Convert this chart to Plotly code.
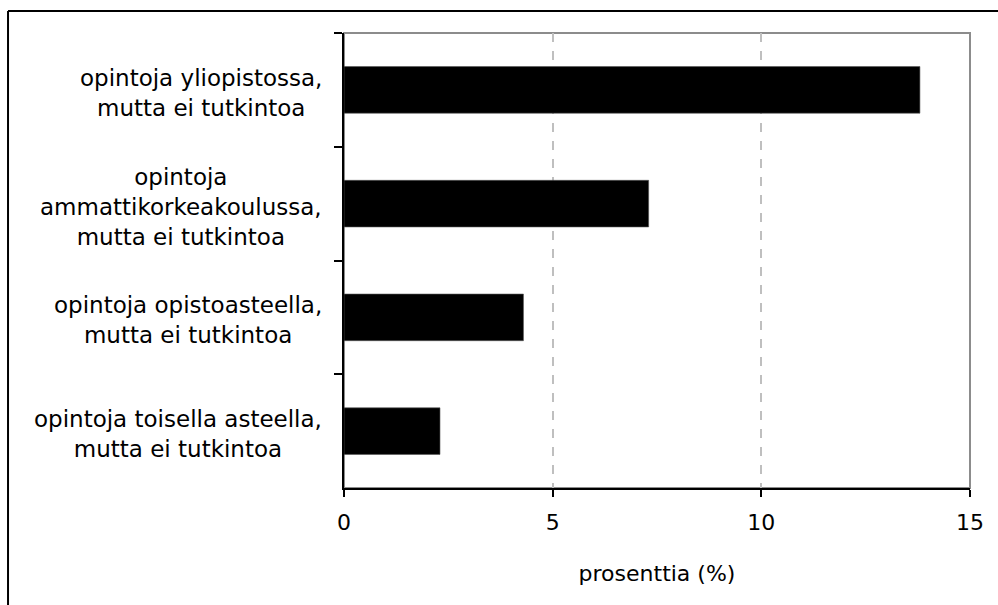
import plotly.graph_objects as go

# Data (top to bottom as in the chart)
categories = [
    "opintoja yliopistossa,<br>mutta ei tutkintoa",
    "opintoja<br>ammattikorkeakoulussa,<br>mutta ei tutkintoa",
    "opintoja opistoasteella,<br>mutta ei tutkintoa",
    "opintoja toisella asteella,<br>mutta ei tutkintoa",
]
values = [13.8, 7.3, 4.3, 2.3]
x_ticks = [0, 5, 10, 15]
x_title = "prosenttia (%)"

FONT = "DejaVu Sans"

fig = go.Figure()
fig.add_trace(go.Bar(
    x=values,
    y=categories,
    orientation="h",
    marker=dict(color="#000000", line=dict(color="#555555", width=0.6)),
    hoverinfo="skip",
))

# category labels as centered multi-line annotations
for cat in categories:
    fig.add_annotation(
        x=0, xref="paper", y=cat, yref="y",
        xanchor="right", yanchor="middle", xshift=-20, yshift=-3,
        text=cat, align="center", showarrow=False,
        font=dict(family=FONT, size=23, color="#000000"),
    )

# gray top/right frame of plot area
fig.add_shape(type="rect", xref="paper", yref="paper", x0=0, y0=0, x1=1, y1=1,
              line=dict(color="#8c8c8c", width=2), layer="below")
# outer chart frame (top and left edges visible in the crop)
fig.add_shape(type="line", xref="paper", yref="paper", x0=-0.5367, y0=1.0484, x1=1.3, y1=1.0484,
              line=dict(color="#000000", width=2), layer="above")
fig.add_shape(type="line", xref="paper", yref="paper", x0=-0.5367, y0=-0.45, x1=-0.5367, y1=1.0484,
              line=dict(color="#000000", width=2), layer="above")

fig.update_layout(
    width=998, height=605,
    margin=dict(l=344, r=28, t=33, b=117, autoexpand=False),
    paper_bgcolor="white", plot_bgcolor="white",
    showlegend=False,
    bargap=0.59,
    font=dict(family=FONT, size=22, color="#000000"),
    xaxis=dict(
        range=[0, 15], tickvals=x_ticks, ticktext=[str(v) for v in x_ticks],
        showgrid=True, gridcolor="#bfbfbf", gridwidth=2, griddash="dash",
        showline=True, linecolor="#000000", linewidth=2,
        ticks="outside", ticklen=7, tickwidth=2, tickcolor="#000000",
        ticklabelstandoff=7,
        zeroline=False,
        title=dict(text=x_title, font=dict(family=FONT, size=22), standoff=31),
        tickfont=dict(family=FONT, size=22),
    ),
    yaxis=dict(
        type="category", categoryorder="array", categoryarray=categories,
        range=[3.5, -0.5],
        tickson="boundaries", ticks="outside", ticklen=8, tickwidth=2, tickcolor="#000000",
        showticklabels=False, showgrid=False, zeroline=False,
        showline=True, linecolor="#000000", linewidth=2,
    ),
)

fig.write_html(
    "out.html",
    config={"displayModeBar": False},
    post_script=(
        "document.body.style.margin='0';"
        "document.body.style.overflow='hidden';"
        "document.documentElement.style.overflow='hidden';"
    ),
)
